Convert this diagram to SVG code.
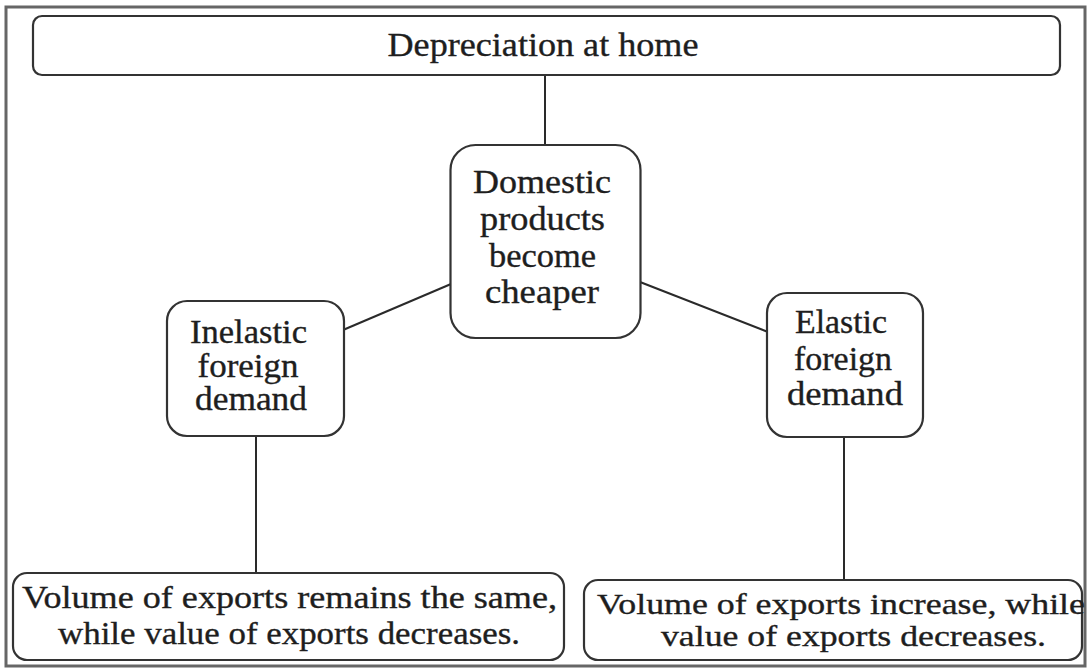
<svg xmlns="http://www.w3.org/2000/svg" width="1089" height="668" viewBox="0 0 1089 668">
<style>
.box{fill:#fff;stroke:#333;stroke-width:2.2}
.frame{fill:#fff;stroke:#666;stroke-width:3}
.conn{stroke:#2a2a2a;stroke-width:2;fill:none}
.t{font-family:"Liberation Serif","Times New Roman",serif;font-size:33px;fill:#1e1e1e;stroke:#1e1e1e;stroke-width:0.35;text-anchor:middle}
.ts{font-family:"Liberation Serif","Times New Roman",serif;font-size:32px;fill:#1e1e1e;stroke:#1e1e1e;stroke-width:0.35}
.tr{font-family:"Liberation Serif","Times New Roman",serif;font-size:30px;fill:#1e1e1e;stroke:#1e1e1e;stroke-width:0.35}
</style>
<rect class="frame" x="6" y="7" width="1079" height="659"/>
<g id="connectors">
<line class="conn" x1="545" y1="75" x2="545" y2="145"/>
<line class="conn" x1="451" y1="284" x2="343" y2="330"/>
<line class="conn" x1="640" y1="282" x2="768" y2="332"/>
<line class="conn" x1="256" y1="436" x2="256" y2="573"/>
<line class="conn" x1="844" y1="437" x2="844" y2="580"/>
</g>
<g id="top">
<rect class="box" x="33" y="16" width="1027" height="59" rx="9"/>
<text class="t" x="543" y="56" textLength="311" lengthAdjust="spacingAndGlyphs">Depreciation at home</text>
</g>
<g id="center">
<rect class="box" x="450.5" y="145" width="190" height="193" rx="25"/>
<text class="t" x="542" y="193" textLength="138" lengthAdjust="spacingAndGlyphs">Domestic</text>
<text class="t" x="542.5" y="230" textLength="125" lengthAdjust="spacingAndGlyphs">products</text>
<text class="t" x="542.5" y="267" textLength="107" lengthAdjust="spacingAndGlyphs">become</text>
<text class="t" x="542" y="303" textLength="114" lengthAdjust="spacingAndGlyphs">cheaper</text>
</g>
<g id="inelastic">
<rect class="box" x="167" y="301" width="177" height="135" rx="20"/>
<text class="t" x="248.5" y="343" textLength="117" lengthAdjust="spacingAndGlyphs">Inelastic</text>
<text class="t" x="248" y="377" textLength="101" lengthAdjust="spacingAndGlyphs">foreign</text>
<text class="t" x="251" y="410" textLength="112" lengthAdjust="spacingAndGlyphs">demand</text>
</g>
<g id="elastic">
<rect class="box" x="767" y="293" width="156" height="144" rx="20"/>
<text class="t" x="841" y="333" textLength="92" lengthAdjust="spacingAndGlyphs">Elastic</text>
<text class="t" x="843" y="370" textLength="98" lengthAdjust="spacingAndGlyphs">foreign</text>
<text class="t" x="845" y="405" textLength="116" lengthAdjust="spacingAndGlyphs">demand</text>
</g>
<g id="result-inelastic">
<rect class="box" x="13" y="573" width="551" height="87" rx="14"/>
<text class="ts" x="22" y="608" textLength="535" lengthAdjust="spacingAndGlyphs">Volume of exports remains the same,</text>
<text class="ts" x="58" y="644" textLength="462" lengthAdjust="spacingAndGlyphs">while value of exports decreases.</text>
</g>
<g id="result-elastic">
<rect class="box" x="584" y="580" width="498" height="80" rx="14"/>
<text class="tr" x="597" y="614" textLength="488" lengthAdjust="spacingAndGlyphs">Volume of exports increase, while</text>
<text class="tr" x="661" y="646" textLength="385" lengthAdjust="spacingAndGlyphs">value of exports decreases.</text>
</g>
</svg>
